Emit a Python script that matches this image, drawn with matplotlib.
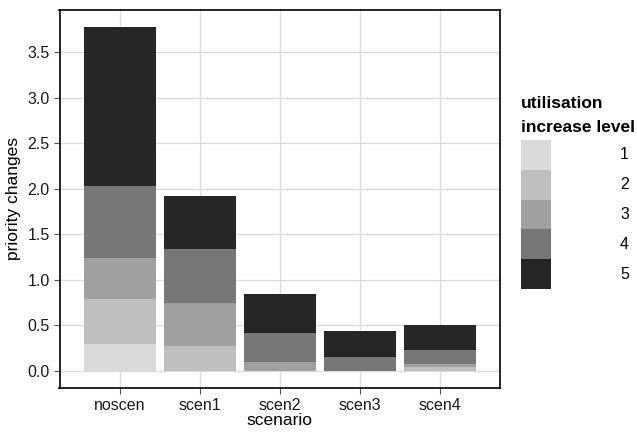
import matplotlib.pyplot as plt
from matplotlib.patches import Rectangle
import numpy as np

plt.rcParams['font.family'] = ['Liberation Sans', 'DejaVu Sans']

scenarios = ['noscen', 'scen1', 'scen2', 'scen3', 'scen4']
levels = ['1', '2', '3', '4', '5']
# priority changes per utilisation increase level (rows) and scenario (cols)
level1 = [0.29, 0.00, 0.00, 0.00, 0.00]
level2 = [0.50, 0.27, 0.00, 0.00, 0.045]
level3 = [0.45, 0.48, 0.10, 0.00, 0.025]
level4 = [0.79, 0.59, 0.32, 0.155, 0.163]
level5 = [1.75, 0.58, 0.427, 0.285, 0.267]
colours = ['#d9d9d9', '#bfbfbf', '#a0a0a0', '#777777', '#262626']

W, H = 637, 433
fig = plt.figure(figsize=(W / 100, H / 100), dpi=100)
ax = fig.add_axes([59.5 / W, 1 - 388 / H, (500 - 59.5) / W, (388 - 9.5) / H])

x = np.arange(len(scenarios))
bottom = np.zeros(len(scenarios))
for vals, col in zip([level1, level2, level3, level4, level5], colours):
    ax.bar(x, vals, width=0.9, bottom=bottom, color=col, linewidth=0, zorder=2)
    bottom += np.array(vals)

ax.set_xlim(-0.75, 4.75)
top = bottom.max()
ax.set_ylim(-0.05 * top, top * 1.05)
ax.set_yticks(np.arange(0, 3.6, 0.5))
ax.set_yticklabels([f'{v:.1f}' for v in np.arange(0, 3.6, 0.5)])
ax.set_xticks(x)
ax.set_xticklabels(scenarios)
ax.grid(True, color='#dcdcdc', linewidth=1.0, zorder=0)
ax.set_axisbelow(True)
for s in ax.spines.values():
    s.set_linewidth(1.2)
    s.set_color('black')
ax.tick_params(axis='both', labelsize=11.5, colors='#555555', labelcolor='#1a1a1a',
               length=4, width=0.8, pad=3)
ax.set_xlabel('scenario', fontsize=12.5, labelpad=0)
ax.set_ylabel('priority changes', fontsize=12.5, labelpad=5)

# legend drawn by hand on the figure
fig.text(521 / W, 1 - 103 / H, 'utilisation', fontsize=12.5, fontweight='bold',
         va='center', ha='left')
fig.text(521 / W, 1 - 128 / H, 'increase level', fontsize=12.5, fontweight='bold',
         va='center', ha='left')
key_h = 29.8
for i, (lab, col) in enumerate(zip(levels, colours)):
    y0 = 140 + i * key_h
    fig.patches.append(Rectangle((521 / W, 1 - (y0 + key_h) / H), 30 / W, key_h / H,
                                 transform=fig.transFigure, facecolor=col,
                                 edgecolor='none'))
    fig.text(629 / W, 1 - (y0 + key_h / 2) / H, lab, fontsize=11.5, va='center',
             ha='right')

fig.savefig('out.png', dpi=100)
